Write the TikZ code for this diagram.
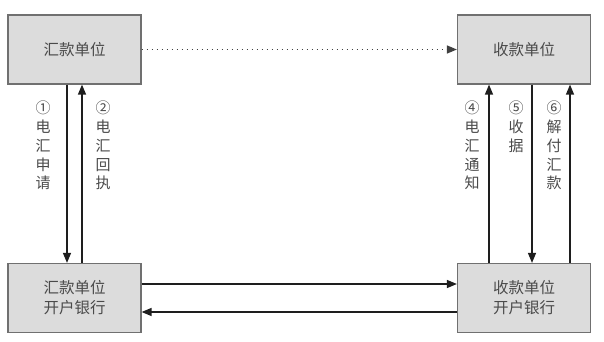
\documentclass[tikz,border=0pt]{standalone}
\usepackage{fontspec}
\newfontfamily\cjk{Noto Sans CJK SC}
\usepackage{tikz}
\usetikzlibrary{arrows.meta, positioning, calc}

\definecolor{boxfill}{HTML}{DCDCDC}
\definecolor{boxline}{HTML}{707070}
\definecolor{txtgray}{HTML}{4A4A4A}
\definecolor{arrowc}{HTML}{1E1E1E}

\begin{document}
\begin{tikzpicture}[
        x=1pt, y=-1pt,
        font=\cjk,
        >={Triangle[length=10pt, width=8pt]},
        % simple grey boxes
        unitbox/.style={
            rectangle, draw=boxline, line width=1.2pt, fill=boxfill,
            minimum width=133pt, minimum height=69pt,
            align=center, text=txtgray,
            font=\cjk\fontsize{15.5}{20}\selectfont
        },
        flow/.style={->, line width=1.3pt, draw=arrowc},
        vlabel/.style={
            anchor=north, inner sep=0pt, align=center, text=txtgray,
            font=\cjk\fontsize{15}{18.75}\selectfont
        }
    ]

    \useasboundingbox (0,0) rectangle (604,342);

    % ==========================
    % UNITS (TOP ROW)
    % ==========================
    \node[unitbox] (payer) at (74.5, 49.5)  {汇款单位};
    \node[unitbox] (payee) at (524, 49.5)   {收款单位};

    % ==========================
    % BANKS (BOTTOM ROW)
    % ==========================
    \node[unitbox] (payerBank) at (74.5, 298) {汇款单位\\开户银行};
    \node[unitbox] (payeeBank) at (524, 298)  {收款单位\\开户银行};

    % ==========================
    % CONNECTIONS
    % ==========================
    % payer side
    \draw[flow] ([xshift=-7.5pt]payer.south) -- ([xshift=-7.5pt]payerBank.north);
    \draw[flow] ([xshift=7.5pt]payerBank.north) -- ([xshift=7.5pt]payer.south);

    % payee side
    \draw[flow] ([xshift=-35pt]payeeBank.north) -- ([xshift=-35pt]payee.south);
    \draw[flow] ([xshift=8pt]payee.south) -- ([xshift=8pt]payeeBank.north);
    \draw[flow] ([xshift=46pt]payeeBank.north) -- ([xshift=46pt]payee.south);

    % bank to bank (shifts are on the page, so + is up)
    \draw[flow] ([yshift=14pt]payerBank.east) -- ([yshift=14pt]payeeBank.west);
    \draw[flow] ([yshift=-14pt]payeeBank.west) -- ([yshift=-14pt]payerBank.east);

    % dotted one on top
    \draw[->, draw=arrowc!85, line width=1.4pt, dash pattern=on 1.4pt off 3.6pt]
        (payer.east) -- (payee.west);

    % ==========================
    % LABELS
    % ==========================
    \node[vlabel] (l1) at (43, 101)  {①\\电\\汇\\申\\请};
    \node[vlabel] (l2) at (103, 101) {②\\电\\汇\\回\\执};
    \node[vlabel] (l4) at (472, 101) {④\\电\\汇\\通\\知};
    \node[vlabel] (l5) at (516, 101) {⑤\\收\\据};
    \node[vlabel] (l6) at (554, 101) {⑥\\解\\付\\汇\\款};

\end{tikzpicture}
\end{document}
